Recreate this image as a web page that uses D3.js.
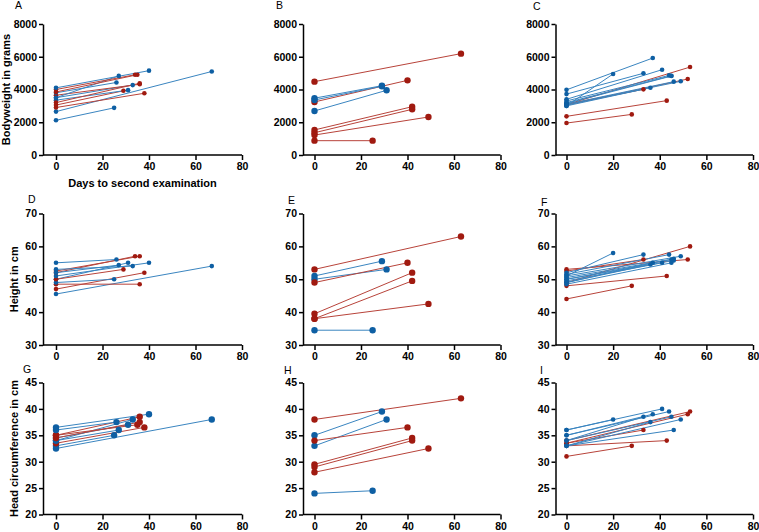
<!DOCTYPE html>
<html><head><meta charset="utf-8">
<script src="https://cdn.jsdelivr.net/npm/d3@7"></script>
<style>body{margin:0;background:#fff} text{font-family:"Liberation Sans",Arial,sans-serif}</style>
</head><body><svg id="c" width="759" height="532"></svg>
<script>
// each segment: [group, value at day 0, day of second exam, value at second exam]
const panelA = [
  ["b",2120,25,2880],["b",2650,67,5100],["r",2900,38,3770],["r",3050,29,3920],
  ["b",3350,31,3960],["b",3500,33,4270],["r",3200,36,4380],["r",3650,36,4320],
  ["b",3800,26,4430],["b",3500,27,4830],["r",4000,34,4900],["r",3850,35,4900],
  ["b",4100,40,5150]
];
const panelB = [
  ["r",4480,63,6190],["r",3240,40,4560],["b",3470,29,4230],["b",3360,29,4200],["b",2690,31,3950],
  ["r",1530,42,2950],["r",1360,42,2790],["r",1220,49,2320],["r",875,25,875]
];
const panelC = [
  ["r",1950,28,2480],["r",2360,43,3320],["r",3080,53,5370],["r",3050,52,4640],["r",3100,33,4010],
  ["b",3980,37,5920],["b",3000,20,4950],["b",3720,33,4990],["b",3400,41,5210],
  ["b",3300,44,4860],["b",3200,45,4840],["b",3150,45,4820],["b",3100,46,4480],
  ["b",3050,49,4500],["b",3000,36,4110]
];
const panelD = [
  ["b",45.5,67,54],["r",47,38,52],["r",48.5,36,48.5],["b",49,25,50],["b",50,31,55],
  ["r",50,29,53],["b",51,40,55],["r",52,34,57],["r",52.5,36,57],["b",52,27,54.3],
  ["b",55,26,56],["b",53,33,54]
];
const panelE = [
  ["r",53,63,63],["b",51,29,55.5],["b",50,31,53],["r",49,40,55],
  ["r",39.5,42,52],["r",38,42,49.5],["r",38,49,42.5],["b",34.5,25,34.5]
];
const panelF = [
  ["r",44,28,48],["r",48,43,51],["r",53,52,56],["r",49,53,60],["r",52.5,33,56],
  ["b",51,20,58],["b",52,33,57.5],["b",51.5,44,57.5],["b",51,49,57],["b",50.5,46,56.2],
  ["b",50,45,56],["b",50,46,55.7],["b",49.5,41,55],["b",49,37,55],["b",49,36,54.5],["b",48.5,45,55]
];
const panelG = [
  ["b",32.5,67,38],["b",33,25,35],["r",33.5,38,36.5],["b",34,27,36],["b",34,33,38],
  ["b",34.5,31,37],["r",35,36,38.5],["r",34.5,36,37.5],["r",35,35,37],
  ["b",36,26,37.5],["b",36.5,40,39]
];
const panelH = [
  ["r",38,63,42],["b",35,29,39.5],["b",33,31,38],["r",34,40,36.5],
  ["r",29.5,42,34.5],["r",29,42,34],["r",28,49,32.5],["b",24,25,24.5]
];
const panelI = [
  ["r",31,28,33],["r",33,43,34],["r",33.5,33,36],["r",34,53,39.5],["r",33.5,52,39],
  ["b",36,41,40],["b",36,20,38],["b",35,44,39.5],["b",35,37,39],["b",34,33,38.5],
  ["b",34,45,38.5],["b",33,49,38],["b",33,36,37.5],["b",33,46,36]
];
const xTicks = [0,20,40,60,80];
const yTicksRow = [[0,2000,4000,6000,8000],[30,40,50,60,70],[20,25,30,35,40,45]];
const yDomains = [[0,8000],[30,70],[20,45]];
const yLabels = ["Bodyweight in grams","Height in cm","Head circumference in cm"];
const xLabel = "Days to second examination";
const letters = ["A","B","C","D","E","F","G","H","I"];

const colours = {b:{line:"#3a85c0",dot:"#0e5fa3"}, r:{line:"#b8433a",dot:"#a01a10"}};

const cols = [{axisX:43, x0:56, x80:242},{axisX:303, x0:314.5, x80:500.5},{axisX:555.5, x0:566.5, x80:753}];
const rows = [{top:24, bot:155},{top:213.5, bot:345},{top:382.5, bot:514.5}];
const letterPos = [[15,9],[276,9],[533,10],[28,203],[288,204],[541,206],[23,373],[284,374],[540,374]];
const dotR = [2.3,3.2,2.3,2.3,3.2,2.3,3.2,3.2,2.3];
const panels = [panelA,panelB,panelC,panelD,panelE,panelF,panelG,panelH,panelI];

const svg = d3.select("#c");

panels.forEach((data,i)=>{
  const ci = i%3, ri = Math.floor(i/3);
  const c = cols[ci], r = rows[ri];
  const x = d3.scaleLinear().domain([0,80]).range([c.x0,c.x80]);
  const y = d3.scaleLinear().domain(yDomains[ri]).range([r.bot,r.top]);
  const g = svg.append("g");

  const gx = g.append("g").attr("transform",`translate(0,${r.bot})`)
    .call(d3.axisBottom(x).tickValues(xTicks).tickFormat(d3.format("d")).tickSize(5).tickPadding(3).tickSizeOuter(0));
  gx.select(".domain").remove();
  gx.append("line").attr("x1",c.axisX).attr("x2",c.x80).attr("stroke","#000").attr("stroke-width",1.5);
  const gy = g.append("g").attr("transform",`translate(${c.axisX},0)`)
    .call(d3.axisLeft(y).tickValues(yTicksRow[ri]).tickFormat(d3.format("d")).tickSize(4).tickPadding(2).tickSizeOuter(0));
  [gx,gy].forEach(a=>{
    a.selectAll(".tick line").attr("stroke","#000").attr("stroke-width",1.5);
    a.selectAll(".domain").attr("stroke","#000").attr("stroke-width",1.5);
    a.selectAll("text").attr("font-size","10.5px").attr("font-weight","bold").attr("fill","#000")
      .style("font-family","'Liberation Sans',Arial,sans-serif");
  });

  g.selectAll("line.seg").data(data).join("line").attr("class","seg")
    .attr("x1",x(0)).attr("y1",d=>y(d[1])).attr("x2",d=>x(d[2])).attr("y2",d=>y(d[3]))
    .attr("stroke",d=>colours[d[0]].line).attr("stroke-width",1);
  const pts = data.flatMap(d=>[{g:d[0],x:0,v:d[1]},{g:d[0],x:d[2],v:d[3]}]);
  g.selectAll("circle").data(pts).join("circle")
    .attr("cx",d=>x(d.x)).attr("cy",d=>y(d.v)).attr("r",dotR[i])
    .attr("fill",d=>colours[d.g].dot);

  g.append("text").attr("x",letterPos[i][0]).attr("y",letterPos[i][1])
    .attr("font-size","10.5px").attr("fill","#000").text(letters[i]);

  if(ci===0){
    const lx = ri===0 ? 10 : 18;
    g.append("text").attr("transform",`translate(${lx},${(r.top+r.bot)/2}) rotate(-90)`)
      .attr("text-anchor","middle").attr("font-size","11px").attr("font-weight","bold").text(yLabels[ri]);
  }
  if(i===0){
    g.append("text").attr("x",(c.axisX+c.x80)/2).attr("y",r.bot+32)
      .attr("text-anchor","middle").attr("font-size","11px").attr("font-weight","bold").text(xLabel);
  }
});
</script></body></html>
